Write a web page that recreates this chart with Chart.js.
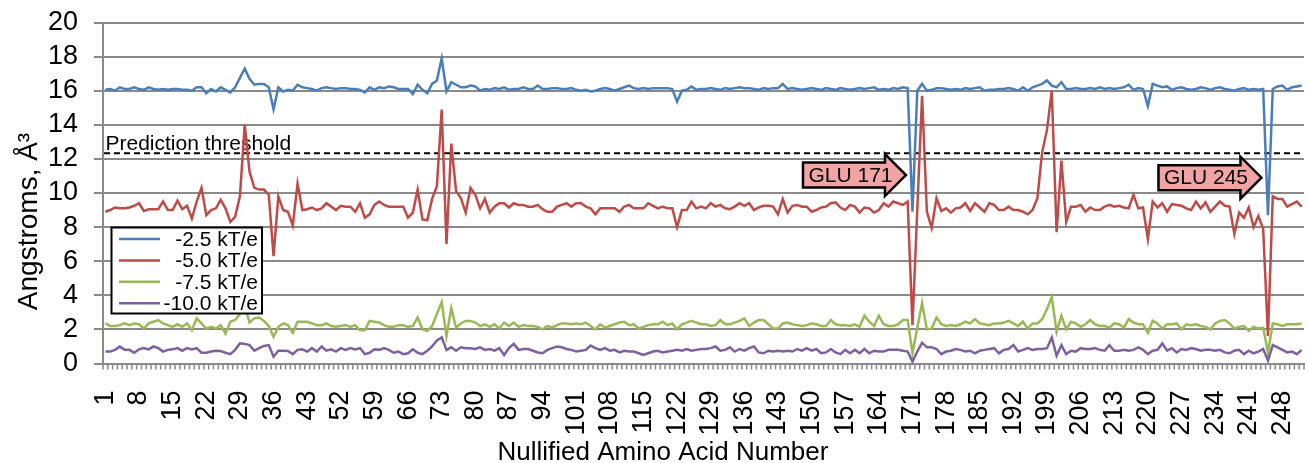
<!DOCTYPE html>
<html>
<head>
<meta charset="utf-8">
<script src="https://cdn.jsdelivr.net/npm/chart.js@4.4.1/dist/chart.umd.min.js"></script>
<style>
  html, body { margin: 0; padding: 0; background: #fff; }
  canvas { display: block; }
</style>
</head>
<body>
<canvas id="chart" width="1308" height="463"></canvas>
<script>
const span = (a, b) => Array.from({ length: b - a + 1 }, (_, k) => a + k);

// residue numbers on the x axis (50 and 51 are not in the set)
const residues = [...span(1, 49), ...span(52, 252)];

const seriesLabels = ["-2.5 kT/e", "-5.0 kT/e", "-7.5 kT/e", "-10.0 kT/e"];

const kt25 = [
  16.05, 16.1, 16.0, 16.2, 16.1, 16.1, 16.2, 16.1, 16.05, 16.2,
  16.1, 16.05, 16.1, 16.05, 16.1, 16.1, 16.05, 16.05, 16.0, 16.2,
  16.2, 15.85, 16.1, 15.95, 16.2, 16.05, 15.9, 16.2, 16.75, 17.3,
  16.7, 16.35, 16.4, 16.4, 16.2, 14.9, 16.2, 15.95, 16.05, 16.0,
  16.35, 16.2, 16.15, 16.1, 16.0, 16.15, 16.2, 16.15, 16.1, 16.15,
  16.15, 16.1, 16.1, 16.05, 15.9, 16.2, 16.05, 16.2, 16.15, 16.25,
  16.2, 16.1, 16.1, 16.1, 15.8, 16.35, 16.05, 15.85, 16.4, 16.6,
  17.9, 15.95, 16.5, 16.35, 16.2, 16.2, 16.3, 16.25, 16.0, 16.1,
  16.05, 16.15, 16.1, 16.2, 16.05, 16.1, 16.1, 16.2, 16.1, 16.1,
  16.3, 16.1, 16.1, 16.15, 16.15, 16.1, 16.1, 16.15, 16.05, 16.0,
  16.05, 15.95, 16.0, 16.1, 16.15, 16.1, 16.0, 16.1, 16.2, 16.3,
  16.15, 16.1, 16.15, 16.1, 16.15, 16.15, 16.15, 16.15, 16.1, 15.35,
  16.0, 16.05, 16.25, 16.05, 16.1, 16.1, 16.15, 16.1, 16.05, 16.15,
  16.1, 16.15, 16.2, 16.15, 16.15, 16.1, 16.05, 16.15, 16.1, 16.15,
  16.15, 16.4, 16.1, 16.15, 16.1, 16.05, 16.1, 16.15, 16.1, 16.05,
  16.15, 16.1, 16.05, 16.15, 16.1, 16.05, 16.1, 16.15, 16.1, 16.15,
  16.2, 16.05, 16.1, 16.05, 16.15, 16.1, 16.2, 16.15, 8.9, 16.0,
  16.4, 16.0, 16.05, 16.15, 16.15, 16.1, 16.05, 16.1, 16.05, 16.15,
  16.1, 16.15, 16.2, 16.0, 16.05, 16.05, 16.1, 16.1, 16.15, 16.1,
  16.0, 16.2, 16.0, 16.2, 16.3, 16.4, 16.6, 16.3, 16.2, 16.5,
  16.1, 16.1, 16.15, 16.1, 16.1, 16.15, 16.1, 16.2, 16.1, 16.15,
  16.1, 16.15, 16.2, 16.35, 16.05, 16.15, 16.1, 15.1, 16.4, 16.3,
  16.2, 16.25, 16.05, 16.15, 16.2, 16.1, 16.05, 16.1, 16.2, 16.15,
  16.05, 16.15, 16.2, 16.1, 16.05, 16.0, 16.1, 16.15, 16.05, 16.1,
  16.05, 16.1, 8.7, 16.1, 16.25, 16.3, 16.05, 16.2, 16.25, 16.3
];

const kt50 = [
  8.9, 9.0, 9.15, 9.1, 9.1, 9.15, 9.25, 9.4, 8.95, 9.05,
  9.05, 9.05, 9.5, 9.0, 9.0, 9.55, 9.05, 9.25, 8.5, 9.5,
  10.3, 8.7, 9.0, 9.1, 9.6, 9.1, 8.3, 8.6, 9.8, 14.0,
  11.25, 10.3, 10.2, 10.2, 9.9, 6.3, 9.8, 9.0, 8.9, 8.1,
  10.55, 9.0, 9.05, 9.15, 9.0, 9.1, 9.4, 9.2, 9.0, 9.25,
  9.2, 9.2, 8.9, 9.4, 8.55, 8.75, 9.3, 9.5, 9.3, 9.2,
  9.2, 9.2, 9.2, 8.55, 8.85, 10.2, 8.45, 8.4, 9.65, 10.4,
  14.9, 7.0, 12.9, 10.1, 9.7, 8.85, 10.3, 9.9, 9.1, 9.65,
  8.85, 9.2, 9.4, 9.4, 9.15, 9.4, 9.3, 9.3, 9.2, 9.2,
  9.3, 9.05, 8.9, 8.9, 9.2, 9.3, 9.4, 9.2, 9.4, 9.4,
  9.2, 9.1, 8.75, 9.1, 9.1, 9.1, 9.1, 8.9, 9.2, 9.3,
  9.1, 9.1, 9.1, 9.4, 9.25, 9.1, 9.2, 9.1, 9.1, 8.0,
  9.0, 9.0, 9.5, 9.1, 9.2, 9.1, 9.4, 9.2, 9.3, 9.1,
  9.05, 9.2, 9.4, 9.25, 9.4, 9.0, 9.15, 9.25, 9.25, 9.2,
  8.75, 9.65, 8.85, 9.25, 9.3, 9.2, 9.2, 8.9, 9.0, 9.15,
  9.2, 9.4, 9.45, 9.15, 9.0, 9.3, 9.2, 8.85, 9.15, 9.1,
  8.85, 9.0, 9.4, 9.2, 9.5, 9.4, 9.3, 9.5, 2.25, 9.0,
  15.7, 8.9, 7.95, 9.7, 8.95, 9.1, 8.85, 9.1, 9.15, 9.4,
  8.95, 9.4, 9.15, 8.9, 9.4, 9.3, 9.0, 9.0, 9.2, 9.0,
  9.0, 8.9, 8.75, 9.0, 9.7, 12.4, 13.7, 16.0, 7.7, 11.9,
  8.3, 9.2, 9.2, 9.3, 8.9, 9.15, 9.0, 9.0, 9.2, 9.3,
  9.2, 9.25, 9.15, 9.1, 9.9, 9.1, 9.15, 7.3, 9.5, 9.15,
  9.4, 8.9, 9.35, 9.3, 9.25, 9.1, 9.0, 9.5, 9.1, 9.45,
  8.9, 9.2, 9.5, 9.25, 9.2, 7.6, 8.85, 8.55, 9.15, 8.0,
  8.65, 7.9, 1.6, 9.8, 9.65, 9.65, 9.2, 9.35, 9.5, 9.2
];

const kt75 = [
  2.35, 2.2, 2.2, 2.25, 2.35, 2.25, 2.35, 2.3, 2.05, 2.35,
  2.45, 2.55, 2.35, 2.25, 2.15, 2.3, 2.15, 2.35, 1.95, 2.65,
  2.35, 2.05, 2.15, 2.05, 2.25, 1.75, 2.45, 2.55, 2.9, 3.4,
  2.4, 2.65, 2.7, 2.5, 2.2, 1.57, 2.15, 2.35, 2.25, 1.8,
  2.45, 2.45, 2.45, 2.35, 2.25, 2.25, 2.35, 2.2, 2.15, 2.2,
  2.25, 2.15, 2.25, 1.95, 1.95, 2.5, 2.45, 2.4, 2.25, 2.15,
  2.15, 2.25, 2.25, 2.15, 2.2, 2.7, 2.0, 1.92, 2.2, 2.9,
  3.6, 1.6, 3.25, 2.1, 2.35, 2.5, 2.5, 2.4, 2.2, 2.3,
  2.15, 2.3, 2.05, 2.4, 2.2, 2.4, 2.15, 2.25, 2.2, 2.2,
  2.15, 2.0, 2.2, 2.1, 2.25, 2.35, 2.35, 2.3, 2.35, 2.3,
  2.4, 2.2, 2.0, 2.3, 2.1, 2.2, 2.3, 2.4, 2.45, 2.25,
  2.3, 2.05, 2.15, 2.25, 2.3, 2.3, 2.45, 2.25, 2.35, 2.0,
  2.3, 2.4, 2.5, 2.4, 2.3, 2.3, 2.2, 2.25, 2.55, 2.3,
  2.3, 2.4, 2.5, 2.65, 2.2, 2.4, 2.55, 2.55, 2.3, 2.05,
  2.05, 2.35, 2.4, 2.3, 2.25, 2.2, 2.25, 2.35, 2.3, 2.2,
  2.2, 2.55, 2.3, 2.25, 2.25, 2.2, 2.3, 2.15, 2.8, 2.45,
  2.2, 2.8, 2.3, 2.2, 2.2, 2.3, 2.55, 2.55, 0.6, 2.1,
  3.55, 2.0, 2.05, 2.7, 2.3, 2.2, 2.25, 2.2, 2.3, 2.45,
  2.35, 2.6, 2.35, 2.3, 2.25, 2.35, 2.35, 2.4, 2.5, 2.35,
  2.2, 2.45, 2.05, 2.35, 2.35, 2.6, 3.2, 3.9, 1.87, 2.8,
  2.0, 2.45, 2.35, 2.15, 2.3, 2.55, 2.3, 2.2, 2.2, 2.1,
  2.35, 2.3, 2.1, 2.6, 2.4, 2.3, 2.3, 1.8, 2.5, 2.35,
  2.05, 2.3, 2.3, 2.35, 2.0, 2.3, 2.25, 2.3, 2.2, 2.15,
  2.0, 2.35, 2.5, 2.55, 2.35, 2.05, 2.15, 2.2, 1.92, 2.15,
  2.05, 2.1, 0.65, 2.35, 2.3, 2.2, 2.3, 2.3, 2.3, 2.35
];

const kt100 = [
  0.7, 0.7, 0.8, 0.99, 0.8, 0.8, 0.63, 0.83, 0.9, 0.83,
  1.0, 0.9, 0.7, 0.8, 0.83, 0.9, 0.75, 0.9, 0.83, 0.9,
  0.63, 0.63, 0.7, 0.75, 0.73, 0.63, 0.55, 0.8, 1.18, 1.15,
  1.08, 0.75, 0.9, 1.03, 1.08, 0.4, 0.75, 0.75, 0.73, 0.55,
  0.8, 0.83, 0.7, 0.9, 0.7, 1.0, 0.75, 0.83, 0.7, 0.9,
  0.8, 0.9, 0.83, 0.9, 0.55, 0.63, 0.83, 0.8, 0.9, 0.8,
  0.63, 0.7, 0.55, 0.6, 0.83, 0.63, 0.55, 0.75, 1.0, 1.35,
  1.53, 0.8, 0.95, 0.75, 0.95, 0.9, 0.9, 0.85, 0.95, 0.8,
  0.85, 0.75, 0.9, 0.5, 0.9, 1.15, 0.8, 0.85, 0.85, 0.75,
  0.65, 0.6, 0.8, 0.9, 1.0, 0.95, 0.85, 0.8, 0.7, 0.75,
  0.8, 1.05, 0.9, 0.8, 0.9, 0.75, 0.8, 0.65, 0.75, 0.7,
  0.7, 0.6, 0.5, 0.6, 0.7, 0.75, 0.65, 0.7, 0.75, 0.8,
  0.75, 0.85, 0.75, 0.8, 0.85, 0.85, 0.9, 1.0, 0.75, 0.8,
  0.95, 0.7, 0.85, 0.75, 0.9, 1.0, 0.65, 0.6, 0.75, 0.7,
  0.75, 0.7, 0.75, 0.7, 0.85, 0.75, 0.9, 0.75, 0.85, 0.6,
  0.65, 0.85, 0.65, 0.55, 0.8, 0.6, 0.8, 0.6, 0.85, 0.6,
  0.75, 0.7, 0.7, 0.8, 0.8, 0.8, 0.75, 0.7, 0.1, 0.7,
  1.22, 0.95, 0.95, 0.85, 0.55, 0.7, 0.75, 0.85, 0.8, 0.7,
  0.75, 0.6, 0.75, 0.8, 0.85, 0.9, 0.6, 0.8, 0.85, 1.08,
  0.7, 0.8, 0.9, 0.8, 0.85, 0.85, 0.9, 1.53, 0.45, 1.08,
  0.55, 0.75, 0.7, 0.9, 0.85, 0.85, 0.9, 0.8, 0.75, 1.08,
  0.75, 0.75, 0.8, 0.75, 0.8, 0.95, 0.8, 0.55, 0.75, 0.8,
  1.18, 0.75, 0.9, 0.65, 0.85, 0.8, 0.9, 0.85, 0.75, 0.8,
  0.8, 0.75, 0.8, 0.65, 0.6, 0.75, 0.8, 0.55, 0.75, 0.6,
  0.7, 0.85, 0.17, 1.08, 0.95, 0.8, 0.65, 0.7, 0.55, 0.8
];

const threshold = 12.33;
const yTicks = { min: 0, max: 20, step: 2 };

// arrow call-outs: residue they point at and the height of the arrow tip
const callouts = [
  { text: "GLU 171", residue: 171, value: 11.05 },
  { text: "GLU 245", residue: 245, value: 10.9 }
];

const colors = ["#4a7ebb", "#be4b48", "#98b954", "#7d60a0"];
const grey = "#8a8a8a";
const FONT = "'Liberation Sans', Arial, sans-serif";

Chart.defaults.font.family = FONT;
Chart.defaults.color = "#000";

// small tick marks between categories, below the x axis
const categoryTicks = {
  id: "categoryTicks",
  afterDraw(chart) {
    const { ctx, chartArea } = chart;
    const x = chart.scales.x;
    const w = x.getPixelForValue(1) - x.getPixelForValue(0);
    ctx.save();
    ctx.strokeStyle = grey;
    ctx.lineWidth = 1.5;
    ctx.beginPath();
    for (let k = 0; k <= residues.length; k++) {
      const px = x.getPixelForValue(0) - w / 2 + k * w;
      ctx.moveTo(px, chartArea.bottom);
      ctx.lineTo(px, chartArea.bottom + 6);
    }
    ctx.stroke();
    ctx.restore();
  }
};

// dashed threshold line with its caption
const thresholdLine = {
  id: "thresholdLine",
  beforeDatasetsDraw(chart) {
    const { ctx, chartArea } = chart;
    const y = chart.scales.y.getPixelForValue(threshold);
    ctx.save();
    ctx.strokeStyle = "#000";
    ctx.lineWidth = 2;
    ctx.setLineDash([6, 4]);
    ctx.beginPath();
    ctx.moveTo(chartArea.left + 1, y);
    ctx.lineTo(chartArea.right, y);
    ctx.stroke();
    ctx.setLineDash([]);
    ctx.fillStyle = "#000";
    ctx.font = "21px " + FONT;
    ctx.textBaseline = "alphabetic";
    ctx.textAlign = "left";
    ctx.fillText("Prediction threshold", chartArea.left + 2.5, y - 3.5);
    ctx.restore();
  }
};

// legend box sitting inside the plot area
const boxLegend = {
  id: "boxLegend",
  afterDatasetsDraw(chart) {
    const { ctx, chartArea } = chart;
    const left = chartArea.left + 8.5, top = 227.5, w = 150.5, h = 86;
    ctx.save();
    ctx.fillStyle = "#fff";
    ctx.fillRect(left, top, w, h);
    ctx.strokeStyle = "#000";
    ctx.lineWidth = 2;
    ctx.strokeRect(left, top, w, h);
    ctx.font = "21px " + FONT;
    ctx.textAlign = "right";
    ctx.textBaseline = "middle";
    chart.data.datasets.forEach((ds, i) => {
      const y = top + 11.5 + i * 21.4;
      ctx.strokeStyle = ds.borderColor;
      ctx.lineWidth = 2.5;
      ctx.beginPath();
      ctx.moveTo(left + 7.5, y);
      ctx.lineTo(left + 48.5, y);
      ctx.stroke();
      ctx.fillStyle = "#000";
      ctx.fillText(ds.label, left + w - 4, y + 1);
    });
    ctx.restore();
  }
};

// block arrows pointing at a residue
const arrows = {
  id: "arrows",
  afterDatasetsDraw(chart) {
    const { ctx } = chart;
    const xs = chart.scales.x, ys = chart.scales.y;
    ctx.save();
    callouts.forEach((c) => {
      const tx = xs.getPixelForValue(residues.indexOf(c.residue)) - 6.5;
      const ty = ys.getPixelForValue(c.value);
      const hx = tx - 21, bx = tx - 103;
      ctx.beginPath();
      ctx.moveTo(bx, ty - 12.5);
      ctx.lineTo(hx, ty - 12.5);
      ctx.lineTo(hx, ty - 21);
      ctx.lineTo(tx, ty);
      ctx.lineTo(hx, ty + 21);
      ctx.lineTo(hx, ty + 12.5);
      ctx.lineTo(bx, ty + 12.5);
      ctx.closePath();
      ctx.fillStyle = "#f2a3a3";
      ctx.fill();
      ctx.strokeStyle = "#000";
      ctx.lineWidth = 2.5;
      ctx.lineJoin = "miter";
      ctx.stroke();
      ctx.fillStyle = "#000";
      ctx.font = "21px " + FONT;
      ctx.textAlign = "center";
      ctx.textBaseline = "middle";
      ctx.fillText(c.text, (bx + tx) / 2 - 4, ty + 1);
    });
    ctx.restore();
  }
};

// axis titles
const axisTitles = {
  id: "axisTitles",
  afterDraw(chart) {
    const { ctx } = chart;
    ctx.save();
    ctx.fillStyle = "#000";
    ctx.textAlign = "center";
    ctx.textBaseline = "alphabetic";
    ctx.font = "26px " + FONT;
    ctx.fillText("Nullified Amino Acid Number", 663, 460);
    ctx.font = "28px " + FONT;
    ctx.translate(37, 221.5);
    ctx.rotate(-Math.PI / 2);
    ctx.fillText("Angstroms, Å³", 0, 0);
    ctx.restore();
  }
};

const series = [kt25, kt50, kt75, kt100];

new Chart(document.getElementById("chart").getContext("2d"), {
  type: "line",
  data: {
    labels: residues.map(String),
    datasets: series.map((values, i) => ({
      label: seriesLabels[i],
      data: values,
      borderColor: colors[i],
      backgroundColor: colors[i],
      borderWidth: 2.5,
      pointRadius: 0,
      tension: 0,
      order: series.length - 1 - i
    }))
  },
  options: {
    responsive: false,
    animation: false,
    devicePixelRatio: 1,
    layout: { padding: { left: 0, right: 4, top: 22.5, bottom: 0 } },
    plugins: { legend: { display: false }, tooltip: { enabled: false } },
    scales: {
      x: {
        type: "category",
        offset: true,
        grid: { display: false, drawTicks: false },
        border: { display: true, color: grey, width: 2 },
        ticks: {
          autoSkip: false,
          minRotation: 90,
          maxRotation: 90,
          padding: 27,
          font: { size: 27 },
          callback(value, index) {
            return index % 7 === 0 ? this.getLabelForValue(value) : null;
          }
        },
        afterFit(scale) {
          scale.height = 99.5;
          scale.paddingLeft = 0;
          scale.paddingRight = 0;
        }
      },
      y: {
        min: yTicks.min,
        max: yTicks.max,
        ticks: { stepSize: yTicks.step, autoSkip: false, padding: 16, font: { size: 27 } },
        grid: { color: grey, lineWidth: 2, tickLength: 9 },
        border: { color: grey, width: 2 },
        afterFit(scale) {
          scale.width = 103;
          scale.paddingTop = 0;
          scale.paddingBottom = 0;
        }
      }
    }
  },
  plugins: [categoryTicks, thresholdLine, boxLegend, arrows, axisTitles]
});
</script>
</body>
</html>
